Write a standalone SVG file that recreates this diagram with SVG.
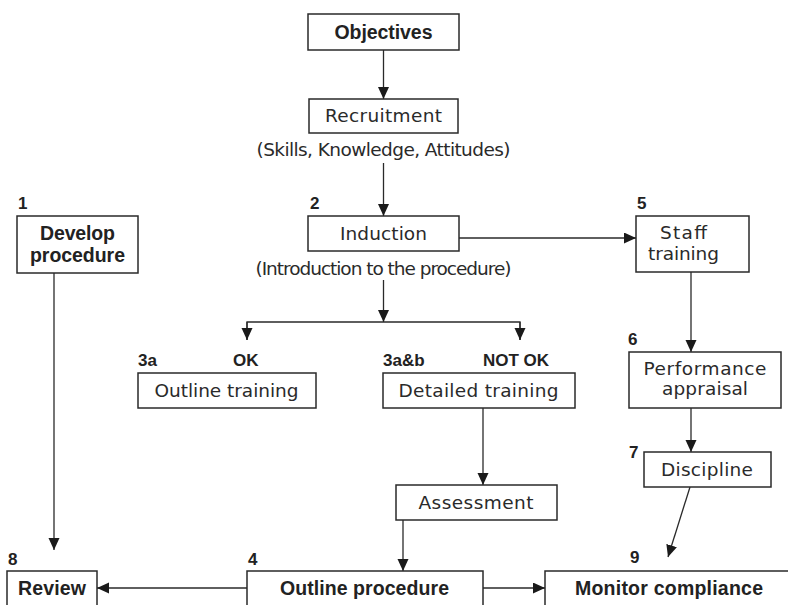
<svg xmlns="http://www.w3.org/2000/svg" width="788" height="605" viewBox="0 0 788 605">
  <style>
    .box { fill: #ffffff; stroke: #2a2a2a; stroke-width: 1.5; }
    .t { font-family: "DejaVu Sans", "Liberation Sans", sans-serif; font-size: 18.5px; fill: #2a2a2a; text-anchor: middle; }
    .b { font-family: "Liberation Sans", Arial, sans-serif; font-size: 19.5px; font-weight: bold; fill: #222222; text-anchor: middle; }
    .n { font-family: "Liberation Sans", Arial, sans-serif; font-size: 17px; font-weight: bold; fill: #222222; }
    .c { fill: none; stroke: #2a2a2a; stroke-width: 1.3; }
    .ca { fill: none; stroke: #2a2a2a; stroke-width: 1.3; marker-end: url(#arrow); }
  </style>
  <defs>
    <marker id="arrow" markerUnits="userSpaceOnUse" markerWidth="13" markerHeight="12" refX="12" refY="5.5" orient="auto">
      <path d="M0,0 L12,5.5 L0,11 Z" fill="#1a1a1a"/>
    </marker>
  </defs>
  <rect width="788" height="605" fill="#ffffff"/>

  <!-- connectors -->
  <g id="connectors">
    <line class="ca" x1="383.5" y1="50" x2="383.5" y2="99"/>
    <line class="ca" x1="383.5" y1="163" x2="383.5" y2="216"/>
    <line class="ca" x1="459" y1="238" x2="636" y2="238"/>
    <line class="ca" x1="383.5" y1="280" x2="383.5" y2="322"/>
    <polyline class="c" points="247,340 247,322 520,322 520,340"/>
    <line class="ca" x1="247" y1="322" x2="247" y2="340"/>
    <line class="ca" x1="520" y1="322" x2="520" y2="340"/>
    <line class="ca" x1="54" y1="273" x2="54" y2="550"/>
    <line class="ca" x1="691" y1="272" x2="691" y2="352"/>
    <line class="ca" x1="691" y1="408" x2="691" y2="452"/>
    <line class="ca" x1="483" y1="408" x2="483" y2="485"/>
    <line class="ca" x1="403" y1="520" x2="403" y2="571"/>
    <line class="ca" x1="690" y1="487" x2="668" y2="557"/>
    <line class="ca" x1="247" y1="588" x2="97" y2="588"/>
    <line class="ca" x1="483" y1="588" x2="545" y2="588"/>
  </g>

  <g id="objectives">
    <rect class="box" x="308" y="14" width="151" height="36"/>
    <text class="b" x="383.5" y="38.5" textLength="98" lengthAdjust="spacing">Objectives</text>
  </g>

  <g id="recruitment">
    <rect class="box" x="309" y="99" width="149" height="34"/>
    <text class="t" x="383.5" y="122" textLength="117" lengthAdjust="spacing">Recruitment</text>
    <text class="t" x="383.5" y="156" textLength="254" lengthAdjust="spacing">(Skills, Knowledge, Attitudes)</text>
  </g>

  <g id="induction">
    <text class="n" x="310" y="209">2</text>
    <rect class="box" x="308" y="216" width="151" height="35"/>
    <text class="t" x="383.5" y="240" textLength="87" lengthAdjust="spacing">Induction</text>
    <text class="t" x="383.5" y="275" textLength="256" lengthAdjust="spacing">(Introduction to the procedure)</text>
  </g>

  <g id="develop-procedure">
    <text class="n" x="18" y="209">1</text>
    <rect class="box" x="17" y="216" width="121" height="57"/>
    <text class="b" x="77.5" y="240" textLength="75" lengthAdjust="spacing">Develop</text>
    <text class="b" x="77.5" y="261.5" textLength="95" lengthAdjust="spacing">procedure</text>
  </g>

  <g id="staff-training">
    <text class="n" x="637" y="209">5</text>
    <rect class="box" x="636" y="216" width="113" height="56"/>
    <text class="t" x="683.5" y="239" textLength="47" lengthAdjust="spacing">Staff</text>
    <text class="t" x="683.5" y="260" textLength="71" lengthAdjust="spacing">training</text>
  </g>

  <g id="outline-training">
    <text class="n" x="138" y="366">3a</text>
    <text class="n" x="233" y="366">OK</text>
    <rect class="box" x="138" y="373" width="178" height="35"/>
    <text class="t" x="226.5" y="397" textLength="144" lengthAdjust="spacing">Outline training</text>
  </g>

  <g id="detailed-training">
    <text class="n" x="383" y="366">3a&amp;b</text>
    <text class="n" x="483" y="366">NOT OK</text>
    <rect class="box" x="383" y="373" width="192" height="35"/>
    <text class="t" x="478.5" y="397" textLength="160" lengthAdjust="spacing">Detailed training</text>
  </g>

  <g id="performance-appraisal">
    <text class="n" x="628" y="345">6</text>
    <rect class="box" x="629" y="352" width="152" height="56"/>
    <text class="t" x="705" y="375" textLength="123" lengthAdjust="spacing">Performance</text>
    <text class="t" x="705" y="395" textLength="86" lengthAdjust="spacing">appraisal</text>
  </g>

  <g id="discipline">
    <text class="n" x="629" y="458">7</text>
    <rect class="box" x="644" y="452" width="127" height="35"/>
    <text class="t" x="707" y="476" textLength="92" lengthAdjust="spacing">Discipline</text>
  </g>

  <g id="assessment">
    <rect class="box" x="396" y="485" width="161" height="35"/>
    <text class="t" x="476" y="509" textLength="115" lengthAdjust="spacing">Assessment</text>
  </g>

  <g id="review">
    <text class="n" x="8" y="565">8</text>
    <rect class="box" x="7" y="571" width="90" height="50"/>
    <text class="b" x="52" y="594.5" textLength="68" lengthAdjust="spacing">Review</text>
  </g>

  <g id="outline-procedure">
    <text class="n" x="248" y="565">4</text>
    <rect class="box" x="247" y="571" width="236" height="50"/>
    <text class="b" x="364.5" y="595" textLength="169" lengthAdjust="spacing">Outline procedure</text>
  </g>

  <g id="monitor-compliance">
    <text class="n" x="630" y="563">9</text>
    <rect class="box" x="545" y="571" width="260" height="50"/>
    <text class="b" x="669" y="595" textLength="188" lengthAdjust="spacing">Monitor compliance</text>
  </g>
</svg>
